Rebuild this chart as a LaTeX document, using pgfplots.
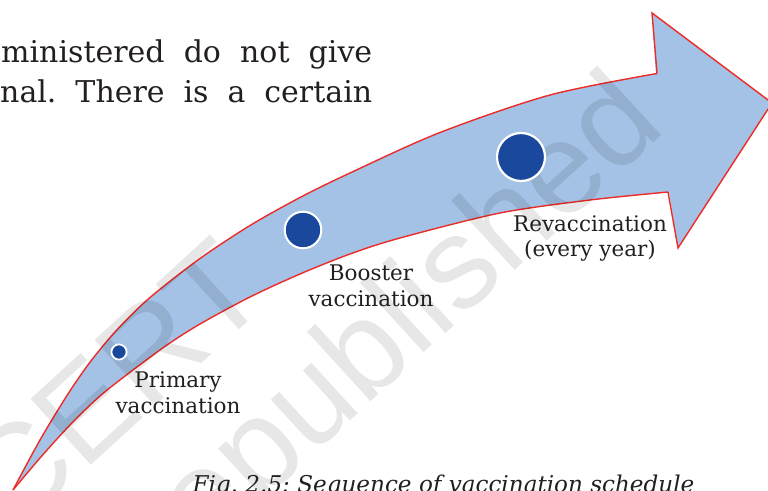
\documentclass[border=0pt]{standalone}
\usepackage{pgfplots}
\pgfplotsset{compat=1.18}
\usepgfplotslibrary{fillbetween}
\usepackage{fontspec}
\setmainfont{DejaVu Serif}
\newfontfamily\wmfont{Liberation Sans}
\definecolor{arrowblue}{RGB}{163,194,229}
\definecolor{dotblue}{RGB}{26,72,156}
\definecolor{edgered}{RGB}{236,44,40}
\definecolor{inkc}{RGB}{35,31,32}
\frenchspacing
\pgfplotstableread{
x y
13 490
40 440
67 395.5
90 362.2
117 329.8
150 297.5
200 258.5
250 225.5
300 197.5
350 173
440 132.5
550 95
657 73.5
}\upperedge
\pgfplotstableread{
x y
13 490
40 458
70 425
100 396
133 370
167 345
200 324
250 297
300 274
350 254
400 238
500 213
590 200
668 192
}\loweredge
\begin{document}
\begin{tikzpicture}
\begin{axis}[
  width=768pt, height=490pt, scale only axis,
  xmin=0, xmax=768, ymin=0, ymax=490, y dir=reverse,
  hide axis, clip=true]
% body edges
\addplot[name path=upper, draw=none, smooth, forget plot] table {\upperedge};
\addplot[name path=lower, draw=none, smooth, forget plot] table {\loweredge};
\addplot[fill=arrowblue, draw=none] fill between[of=upper and lower];
% head
\addplot[fill=arrowblue, draw=none] coordinates {
  (640,77) (656,75) (652,13) (772,103) (678,248) (669,192) (640,195)} -- cycle;
% outline
\addplot[edgered, line width=1.4pt, smooth] table {\upperedge};
\addplot[edgered, line width=1.4pt, smooth] table {\loweredge};
\addplot[edgered, line width=1.4pt, line join=miter] coordinates {
  (657,73.5) (652,13) (772,103) (678,248) (668,192)};
% watermark
\node[rotate=42.5, anchor=base east, text=black, text opacity=0.095,
  font=\wmfont\fontsize{130}{130}\selectfont] at (276,296) {NCERT};
\node[rotate=42.5, anchor=base east, text=black, text opacity=0.095,
  font=\wmfont\fontsize{130}{130}\selectfont] at (671,127) {republished};
% dots
\addplot[only marks, mark=*, mark size=7.6pt,
  mark options={fill=dotblue, draw=white, line width=1.8pt}] coordinates {(119,352)};
\addplot[only marks, mark=*, mark size=18.3pt,
  mark options={fill=dotblue, draw=white, line width=2pt}] coordinates {(303,230)};
\addplot[only marks, mark=*, mark size=24pt,
  mark options={fill=dotblue, draw=white, line width=2.2pt}] coordinates {(521,157)};
% labels
\begin{scope}[every node/.style={text=inkc, inner sep=0pt, anchor=base,
    font=\fontsize{21.5}{25}\selectfont}]
\node at (590,232) {Revaccination};
\node at (590,257) {(every year)};
\node at (371,281) {Booster};
\node at (371,307) {vaccination};
\node at (178,388) {Primary};
\node at (178,413) {vaccination};
\node[font=\itshape\fontsize{23.1}{25}\selectfont] at (443.5,492) {Fig. 2.5: Sequence of vaccination schedule};
\end{scope}
% body text
\node[text=inkc, inner sep=0pt, anchor=base west, font=\fontsize{30}{40}\selectfont]
  at (1,63) {\makebox[371pt][s]{ministered do not give}};
\node[text=inkc, inner sep=0pt, anchor=base west, font=\fontsize{30}{40}\selectfont]
  at (0,103) {\makebox[372pt][s]{nal. There is a certain}};
\end{axis}
\pgfresetboundingbox
\useasboundingbox (current axis.south west) rectangle (current axis.north east);
\end{tikzpicture}
\end{document}
